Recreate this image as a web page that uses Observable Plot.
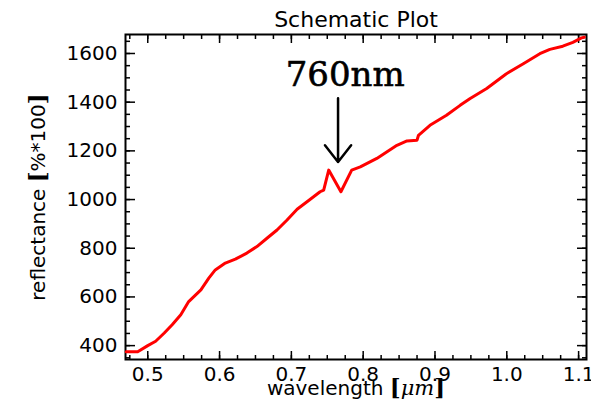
<!DOCTYPE html>
<html><head><meta charset="utf-8">
<script src="https://cdn.jsdelivr.net/npm/d3@7"></script>
<script src="https://cdn.jsdelivr.net/npm/@observablehq/plot@0.6"></script>
<style>body{margin:0;background:#fff}</style>
</head><body><div id="chart"></div>
<script>
const title = "Schematic Plot";
const wavelength = [0.470,0.486,0.500,0.511,0.523,0.534,0.546,0.557,0.574,0.585,0.594,0.608,0.622,0.638,0.652,0.666,0.680,0.694,0.708,0.725,0.740,0.745,0.752,0.769,0.784,0.796,0.819,0.847,0.861,0.875,0.877,0.893,0.916,0.935,0.949,0.972,0.999,1.023,1.046,1.060,1.078,1.092,1.104,1.108];
const reflectance = [375,375,400,418,452,486,527,581,629,677,711,739,755,780,807,841,875,916,960,998,1032,1039,1121,1032,1121,1134,1169,1223,1241,1244,1264,1305,1346,1387,1415,1456,1516,1558,1599,1617,1630,1646,1664,1667];
const xMajor = [0.5,0.6,0.7,0.8,0.9,1.0,1.1];
const xMinor = d3.range(0,26).map(i => +(0.475 + i*0.025).toFixed(3));
const yMajor = [400,600,800,1000,1200,1400,1600];
const yMinor = d3.range(350,1700,50);
const annotation = {label: "760nm", x: 0.765, yFrom: 1416, yTo: 1154, labelX: 0.775, labelY: 1510};

const data = wavelength.map((w,i) => ({w, r: reflectance[i]}));

const plot = Plot.plot({
  width: 591, height: 404,
  marginLeft: 125, marginRight: 5, marginTop: 34, marginBottom: 45,
  style: {fontFamily: "DejaVu Sans", fontSize: "20px", background: "#fff", color: "#000"},
  x: {domain: [0.469, 1.111], label: null},
  y: {domain: [343, 1678], label: null},
  marks: [
    Plot.axisX(xMinor, {anchor: "bottom", tickSize: -4, tickFormat: () => "", strokeWidth: 1.5}),
    Plot.axisX(xMinor, {anchor: "top", tickSize: -4, tickFormat: () => "", strokeWidth: 1.5}),
    Plot.axisX(xMajor, {anchor: "bottom", tickSize: -8, tickPadding: 15, tickFormat: d3.format(".1f"), strokeWidth: 1.5, fontSize: 20}),
    Plot.axisX(xMajor, {anchor: "top", tickSize: -8, tickFormat: () => "", strokeWidth: 1.5}),
    Plot.axisY(yMinor, {anchor: "left", tickSize: -5, tickFormat: () => "", strokeWidth: 1.5}),
    Plot.axisY(yMinor, {anchor: "right", tickSize: -5, tickFormat: () => "", strokeWidth: 1.5}),
    Plot.axisY(yMajor, {anchor: "left", tickSize: -10, tickPadding: 18, tickFormat: d => String(d), strokeWidth: 1.5, fontSize: 20}),
    Plot.axisY(yMajor, {anchor: "right", tickSize: -10, tickFormat: () => "", strokeWidth: 1.5}),
    Plot.frame({stroke: "#000", strokeWidth: 2}),
    Plot.line(data, {x: "w", y: "r", stroke: "#ff0000", strokeWidth: 3}),
    Plot.arrow([annotation], {x1: "x", x2: "x", y1: "yFrom", y2: "yTo", stroke: "#000", strokeWidth: 2.5, headLength: 24, headAngle: 76}),
    Plot.text([annotation], {x: "labelX", y: "labelY", text: "label", fontFamily: "DejaVu Serif", fontSize: 34, fill: "#000", stroke: "#000", strokeWidth: 0.6}),
    Plot.text([title], {frameAnchor: "top", dy: -15, lineAnchor: "middle", textAnchor: "middle", fontSize: 22, fill: "#000"}),
    Plot.text(["xlabel"], {frameAnchor: "bottom", dy: 29, lineAnchor: "middle", textAnchor: "middle", fontSize: 20, fill: "#000", className: "xlab"}),
    Plot.text(["ylabel"], {frameAnchor: "left", dx: -87, rotate: -90, lineAnchor: "middle", textAnchor: "middle", fontSize: 20, fill: "#000", className: "ylab"})
  ]
});
document.getElementById("chart").appendChild(plot);

const svg = d3.select(plot);
svg.selectAll(".xlab text").each(function(){
  const t = d3.select(this); t.text(null);
  t.append("tspan").text("wavelength ");
  t.append("tspan").attr("font-family","DejaVu Serif").attr("font-weight","bold").attr("font-size",23).text("[");
  t.append("tspan").attr("font-family","DejaVu Serif").attr("font-style","italic").attr("font-size",21).text("μm");
  t.append("tspan").attr("font-family","DejaVu Serif").attr("font-weight","bold").attr("font-size",23).text("]");
});
svg.selectAll(".ylab text").each(function(){
  const t = d3.select(this); t.text(null);
  t.append("tspan").text("reflectance ");
  t.append("tspan").attr("font-family","DejaVu Serif").attr("font-weight","bold").attr("font-size",23).text("[");
  t.append("tspan").text("%*100");
  t.append("tspan").attr("font-family","DejaVu Serif").attr("font-weight","bold").attr("font-size",23).text("]");
});
</script></body></html>
